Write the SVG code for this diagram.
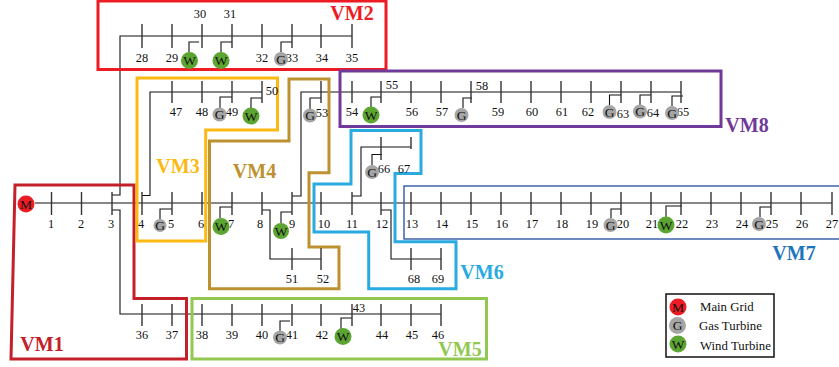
<svg xmlns="http://www.w3.org/2000/svg" width="839" height="367" viewBox="0 0 839 367">
<style>
text{font-family:"Liberation Serif","Times New Roman",serif;fill:#111}
.n{font-size:12.4px;text-anchor:middle}
.c{font-size:13.500px;text-anchor:middle}
.l{font-size:12.8px}
.vm{font-size:20px;font-weight:bold;text-anchor:middle}
.t{stroke:#333;stroke-width:1.4;fill:none}
.w{stroke:#111;stroke-width:1.1;fill:none}
.b{fill:none;stroke-width:3}
.G{fill:#a5a5a5}.W{fill:#5ca532}.M{fill:#ed1c24}
</style>
<rect width="839" height="367" fill="#fff"/>
<g id="connectors" class="w">
<path d="M35 203H832"/>
<path d="M112 195H120V36H352"/>
<path d="M112 210H120V314H441"/>
<path d="M142 195.500H150V92H262"/>
<path d="M292 196H301V92H681"/>
<path d="M352 196H361V147H411"/>
<path d="M381 210H391V259H441"/>
<path d="M262 210H270V259H321"/>
<path d="M160 219V209H172"/>
<path d="M220 218V207H232"/>
<path d="M281 223V212H292"/>
<path d="M611 218V209H621"/>
<path d="M666 217V206H682"/>
<path d="M760 217V207H771"/>
<path d="M280 331V321H290"/>
<path d="M341 329V318H352"/>
<path d="M189 52V42H199"/>
<path d="M221 52V42H232"/>
<path d="M281 52V42H292"/>
<path d="M220 108V97H232"/>
<path d="M251 108V98H262"/>
<path d="M310 109V98H321"/>
<path d="M371 107V97H381"/>
<path d="M463 108V98H472"/>
<path d="M609.500 105V95H621"/>
<path d="M640 105V95H651"/>
<path d="M672 106V96H683"/>
<path d="M372 165V154.500H382"/>
</g>
<g id="zones">
<g id="VM2"><rect class="b" x="98" y="1" width="288" height="68.500" stroke="#ed1c24"/></g>
<g id="VM1"><path class="b" d="M15 185H134V298.500H186.500V359H11Z" stroke="#c4202a"/></g>
<g id="VM3"><path class="b" d="M137 78H277.500V130H205.700V241H137Z" stroke="#fdb913"/></g>
<g id="VM4"><path class="b" d="M209.500 141H289V79H329V172.700H309V247H339V288.700H209.500Z" stroke="#bd9130"/></g>
<g id="VM5"><rect class="b" x="192" y="298.500" width="294.500" height="60.500" stroke="#92c850"/></g>
<g id="VM6"><path class="b" d="M351 130.500H421V173.500H395V241.700H456V288.700H368.700V232H314V184H351Z" stroke="#29abe2"/></g>
<g id="VM7"><path d="M840 186H404V239H840" fill="none" stroke="#3f63a8" stroke-width="1.500"/></g>
<g id="VM8"><rect class="b" x="340" y="71" width="381" height="55.500" stroke="#70399a"/></g>
</g>
<g id="buses">
<g id="b1"><path class="t" d="M51.500 192V215"/><text class="n" x="51" y="228">1</text></g>
<g id="b2"><path class="t" d="M81.500 192V215"/><text class="n" x="81" y="228">2</text></g>
<g id="b3"><path class="t" d="M112 192V215"/><text class="n" x="111" y="228">3</text></g>
<g id="b4"><path class="t" d="M142 192V215"/><text class="n" x="141" y="228">4</text></g>
<g id="b5"><path class="t" d="M172 192V215"/><text class="n" x="171" y="228">5</text></g>
<g id="b6"><path class="t" d="M202 192V215"/><text class="n" x="201" y="228">6</text></g>
<g id="b7"><path class="t" d="M232 192V215"/><text class="n" x="231" y="228">7</text></g>
<g id="b8"><path class="t" d="M262 192V215"/><text class="n" x="260" y="228">8</text></g>
<g id="b9"><path class="t" d="M292 192V215"/><text class="n" x="292" y="228">9</text></g>
<g id="b10"><path class="t" d="M321 192V215"/><text class="n" x="324" y="228">10</text></g>
<g id="b11"><path class="t" d="M352 192V215"/><text class="n" x="352" y="228">11</text></g>
<g id="b12"><path class="t" d="M381 192V215"/><text class="n" x="382" y="228">12</text></g>
<g id="b13"><path class="t" d="M411 192V215"/><text class="n" x="412" y="228">13</text></g>
<g id="b14"><path class="t" d="M441 192V215"/><text class="n" x="442" y="228">14</text></g>
<g id="b15"><path class="t" d="M471 192V215"/><text class="n" x="472" y="228">15</text></g>
<g id="b16"><path class="t" d="M501 192V215"/><text class="n" x="502" y="228">16</text></g>
<g id="b17"><path class="t" d="M531 192V215"/><text class="n" x="532" y="228">17</text></g>
<g id="b18"><path class="t" d="M561 192V215"/><text class="n" x="562" y="228">18</text></g>
<g id="b19"><path class="t" d="M591 192V215"/><text class="n" x="592" y="228">19</text></g>
<g id="b20"><path class="t" d="M621 192V215"/><text class="n" x="623" y="228">20</text></g>
<g id="b21"><path class="t" d="M651 192V215"/><text class="n" x="652" y="228">21</text></g>
<g id="b22"><path class="t" d="M681 192V215"/><text class="n" x="682" y="228">22</text></g>
<g id="b23"><path class="t" d="M711 192V215"/><text class="n" x="712" y="228">23</text></g>
<g id="b24"><path class="t" d="M741 192V215"/><text class="n" x="742" y="228">24</text></g>
<g id="b25"><path class="t" d="M771 192V215"/><text class="n" x="772" y="228">25</text></g>
<g id="b26"><path class="t" d="M801 192V215"/><text class="n" x="802" y="228">26</text></g>
<g id="b27"><path class="t" d="M832 192V215"/><text class="n" x="832" y="228">27</text></g>
<g id="b28"><path class="t" d="M142 24V48"/><text class="n" x="142" y="62">28</text></g>
<g id="b29"><path class="t" d="M172 24V48"/><text class="n" x="172" y="62">29</text></g>
<g id="b30"><path class="t" d="M202 24V48"/><text class="n" x="200" y="18">30</text></g>
<g id="b31"><path class="t" d="M232 24V48"/><text class="n" x="230" y="18">31</text></g>
<g id="b32"><path class="t" d="M262 24V48"/><text class="n" x="262" y="62">32</text></g>
<g id="b33"><path class="t" d="M292 24V48"/><text class="n" x="292" y="62">33</text></g>
<g id="b34"><path class="t" d="M321 24V48"/><text class="n" x="322" y="62">34</text></g>
<g id="b35"><path class="t" d="M352 24V48"/><text class="n" x="352" y="62">35</text></g>
<g id="b36"><path class="t" d="M142 304V326"/><text class="n" x="142" y="339">36</text></g>
<g id="b37"><path class="t" d="M172 304V326"/><text class="n" x="172" y="339">37</text></g>
<g id="b38"><path class="t" d="M202 304V326"/><text class="n" x="202" y="339">38</text></g>
<g id="b39"><path class="t" d="M232 304V326"/><text class="n" x="232" y="339">39</text></g>
<g id="b40"><path class="t" d="M262 304V326"/><text class="n" x="262" y="339">40</text></g>
<g id="b41"><path class="t" d="M292 304V326"/><text class="n" x="292" y="339">41</text></g>
<g id="b42"><path class="t" d="M321 304V326"/><text class="n" x="322" y="339">42</text></g>
<g id="b43"><path class="t" d="M352 304V326"/><text class="n" x="359" y="312">43</text></g>
<g id="b44"><path class="t" d="M381 304V326"/><text class="n" x="382" y="339">44</text></g>
<g id="b45"><path class="t" d="M411 304V326"/><text class="n" x="412" y="339">45</text></g>
<g id="b46"><path class="t" d="M441 304V326"/><text class="n" x="438" y="339">46</text></g>
<g id="b47"><path class="t" d="M172 81V103"/><text class="n" x="176" y="116">47</text></g>
<g id="b48"><path class="t" d="M202 81V103"/><text class="n" x="202" y="116">48</text></g>
<g id="b49"><path class="t" d="M232 81V103"/><text class="n" x="232" y="116">49</text></g>
<g id="b50"><path class="t" d="M262 81V103"/><text class="n" x="272" y="95">50</text></g>
<g id="b51"><path class="t" d="M292 248V270"/><text class="n" x="292" y="283">51</text></g>
<g id="b52"><path class="t" d="M321 248V270"/><text class="n" x="323" y="283">52</text></g>
<g id="b53"><path class="t" d="M321 81V103"/><text class="n" x="322" y="117">53</text></g>
<g id="b54"><path class="t" d="M352 81V103"/><text class="n" x="352" y="116">54</text></g>
<g id="b55"><path class="t" d="M381 81V103"/><text class="n" x="392" y="89">55</text></g>
<g id="b56"><path class="t" d="M411 81V103"/><text class="n" x="412" y="116">56</text></g>
<g id="b57"><path class="t" d="M441 81V103"/><text class="n" x="442" y="116">57</text></g>
<g id="b58"><path class="t" d="M471 81V103"/><text class="n" x="482" y="90">58</text></g>
<g id="b59"><path class="t" d="M501 81V103"/><text class="n" x="498" y="116">59</text></g>
<g id="b60"><path class="t" d="M531 81V103"/><text class="n" x="532" y="116">60</text></g>
<g id="b61"><path class="t" d="M561 81V103"/><text class="n" x="562" y="116">61</text></g>
<g id="b62"><path class="t" d="M591 81V103"/><text class="n" x="588" y="116">62</text></g>
<g id="b63"><path class="t" d="M621 81V103"/><text class="n" x="623" y="117.500">63</text></g>
<g id="b64"><path class="t" d="M651 81V103"/><text class="n" x="653" y="116.500">64</text></g>
<g id="b65"><path class="t" d="M681 81V103"/><text class="n" x="683" y="116">65</text></g>
<g id="b66"><path class="t" d="M381 137V160"/><text class="n" x="384" y="172.500">66</text></g>
<g id="b67"><path class="t" d="M411 137V149"/><text class="n" x="404" y="172.500">67</text></g>
<g id="b68"><path class="t" d="M411 248V270"/><text class="n" x="414" y="283">68</text></g>
<g id="b69"><path class="t" d="M441 248V270"/><text class="n" x="438" y="283">69</text></g>
</g>
<g id="sources">
<g id="m1"><circle class="M" cx="26" cy="204" r="8.500"/><text class="c" x="26" y="208.500">M</text></g>
<g id="g5"><circle class="G" cx="160" cy="225.500" r="6.500"/><text class="c" x="160" y="230">G</text></g>
<g id="w7"><circle class="W" cx="221" cy="226.500" r="8.500"/><text class="c" x="221" y="231">W</text></g>
<g id="w9"><circle class="W" cx="281" cy="231" r="8"/><text class="c" x="281" y="235.500">W</text></g>
<g id="g20"><circle class="G" cx="610.500" cy="225" r="7"/><text class="c" x="610.500" y="229.500">G</text></g>
<g id="w22"><circle class="W" cx="666" cy="225" r="8.500"/><text class="c" x="666" y="229.500">W</text></g>
<g id="g25"><circle class="G" cx="759" cy="224" r="7"/><text class="c" x="759" y="228.500">G</text></g>
<g id="g41"><circle class="G" cx="280" cy="337.500" r="7"/><text class="c" x="280" y="342">G</text></g>
<g id="w43"><circle class="W" cx="343" cy="336.500" r="8.500"/><text class="c" x="343" y="341">W</text></g>
<g id="w30"><circle class="W" cx="189.500" cy="60.500" r="8.500"/><text class="c" x="189.500" y="65">W</text></g>
<g id="w31"><circle class="W" cx="221" cy="60.500" r="8.500"/><text class="c" x="221" y="65">W</text></g>
<g id="g33"><circle class="G" cx="281" cy="59" r="7"/><text class="c" x="281" y="63.500">G</text></g>
<g id="g49"><circle class="G" cx="219.500" cy="114.500" r="7"/><text class="c" x="219.500" y="119">G</text></g>
<g id="w50"><circle class="W" cx="251" cy="116" r="8.500"/><text class="c" x="251" y="120.500">W</text></g>
<g id="g53"><circle class="G" cx="310" cy="115.500" r="7"/><text class="c" x="310" y="120">G</text></g>
<g id="w55"><circle class="W" cx="371" cy="115" r="8.500"/><text class="c" x="371" y="119.500">W</text></g>
<g id="g58"><circle class="G" cx="461.500" cy="115" r="7"/><text class="c" x="461.500" y="119.500">G</text></g>
<g id="g63"><circle class="G" cx="609.500" cy="112" r="7"/><text class="c" x="609.500" y="116.500">G</text></g>
<g id="g64"><circle class="G" cx="640" cy="111.500" r="7"/><text class="c" x="640" y="116">G</text></g>
<g id="g65"><circle class="G" cx="672" cy="113" r="7"/><text class="c" x="672" y="117.500">G</text></g>
<g id="g66"><circle class="G" cx="372" cy="172" r="7"/><text class="c" x="372" y="176.500">G</text></g>
</g>
<g id="zone-labels">
<text class="vm" x="352" y="20" style="fill:#ed1c24">VM2</text>
<text class="vm" x="42" y="351" style="fill:#c4202a">VM1</text>
<text class="vm" x="178" y="173" style="fill:#fdb913">VM3</text>
<text class="vm" x="254.500" y="178" style="fill:#bd9130">VM4</text>
<text class="vm" x="460" y="356" style="fill:#92c850">VM5</text>
<text class="vm" x="482" y="279" style="fill:#29abe2">VM6</text>
<text class="vm" x="794" y="260" style="fill:#1f75bc">VM7</text>
<text class="vm" x="747" y="132" style="fill:#70399a">VM8</text>
</g>
<g id="legend">
<rect x="666" y="294" width="108" height="63" fill="#fff" stroke="#111" stroke-width="1.500"/>
<g id="legend-main"><circle class="M" cx="678" cy="307" r="8.500"/><text class="c" x="678" y="311.500">M</text><text class="l" x="700" y="310.500">Main Grid</text></g>
<g id="legend-gas"><circle class="G" cx="677.500" cy="325.500" r="8.500"/><text class="c" x="677.500" y="330">G</text><text class="l" x="699" y="329.500">Gas Turbine</text></g>
<g id="legend-wind"><circle class="W" cx="678" cy="344" r="8.500"/><text class="c" x="678" y="348.500">W</text><text class="l" x="700" y="349.500">Wind Turbine</text></g>
</g>
</svg>
